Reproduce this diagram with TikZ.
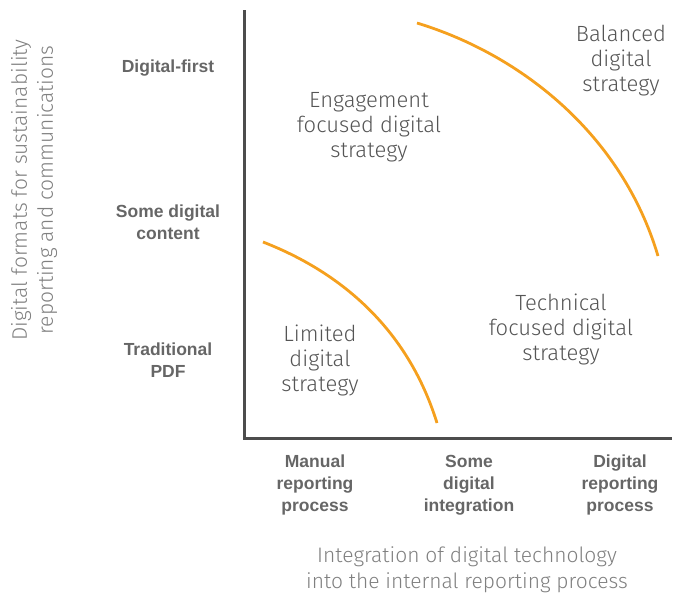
\documentclass[tikz,border=0pt]{standalone}
\usepackage{fontspec}
\setmainfont{Fira Sans}[UprightFont=* Light, BoldFont=* Bold]
\newfontfamily\labelfont{Liberation Sans}
\begin{document}
\definecolor{axisgray}{HTML}{4D4D4D}
\definecolor{quadtext}{HTML}{555555}
\definecolor{ticktext}{HTML}{666666}
\definecolor{titletext}{HTML}{808080}
\definecolor{curveorange}{HTML}{F5A01E}
\begin{tikzpicture}[x=1pt,y=-1pt,
  quad/.style={align=center, text=quadtext, font=\fontsize{22}{25}\selectfont, inner sep=0pt},
  tick/.style={align=center, text=ticktext, font=\labelfont\bfseries\fontsize{17.5}{21.8}\selectfont, inner sep=0pt},
  axtitle/.style={align=center, text=titletext, font=\fontsize{21}{26}\selectfont, inner sep=0pt},
  axisline/.style={draw=axisgray, line width=3pt},
  frontier/.style={draw=curveorange, line width=2.8pt}]
\useasboundingbox (0,0) rectangle (673,598);

% axes
\coordinate (top) at (244,10);
\coordinate (origin) at (244,438);
\coordinate (right) at (672,438);
\draw[axisline] (top) -- (origin) -- (right);

% frontier curves
\coordinate (lowA) at (263,242);
\coordinate (lowB) at (437,423);
\coordinate (upA) at (417,23);
\coordinate (upB) at (658,256);
\draw[frontier] (lowA) .. controls (330,268) and (405,320) .. (lowB);
\draw[frontier] (upA) .. controls (522,55) and (622,135) .. (upB);

% quadrant labels
\node[quad] (engage) at (369,127) {Engagement\\focused digital\\strategy};
\node[quad] (balanced) at (621,61) {Balanced\\digital\\strategy};
\node[quad] (limited) at (320,360) {Limited\\digital\\strategy};
\node[quad] (technical) at (561,329) {Technical\\focused digital\\strategy};

% vertical axis levels
\node[tick] (yhigh) at (168,68) {Digital-first};
\node[tick] (ymid) at (168,222) {Some digital\\content};
\node[tick] (ylow) at (168,360) {Traditional\\PDF};

% horizontal axis levels
\node[tick] (xlow) at (315,485) {Manual\\reporting\\process};
\node[tick] (xmid) at (469,485) {Some\\digital\\integration};
\node[tick] (xhigh) at (620,485) {Digital\\reporting\\process};

% axis titles
\node[axtitle] (xtitle) at (467,570) {Integration of digital technology\\into the internal reporting process};
\node[axtitle, rotate=90] (ytitle) at (34,190) {Digital formats for sustainability\\reporting and communications};
\end{tikzpicture}
\end{document}
